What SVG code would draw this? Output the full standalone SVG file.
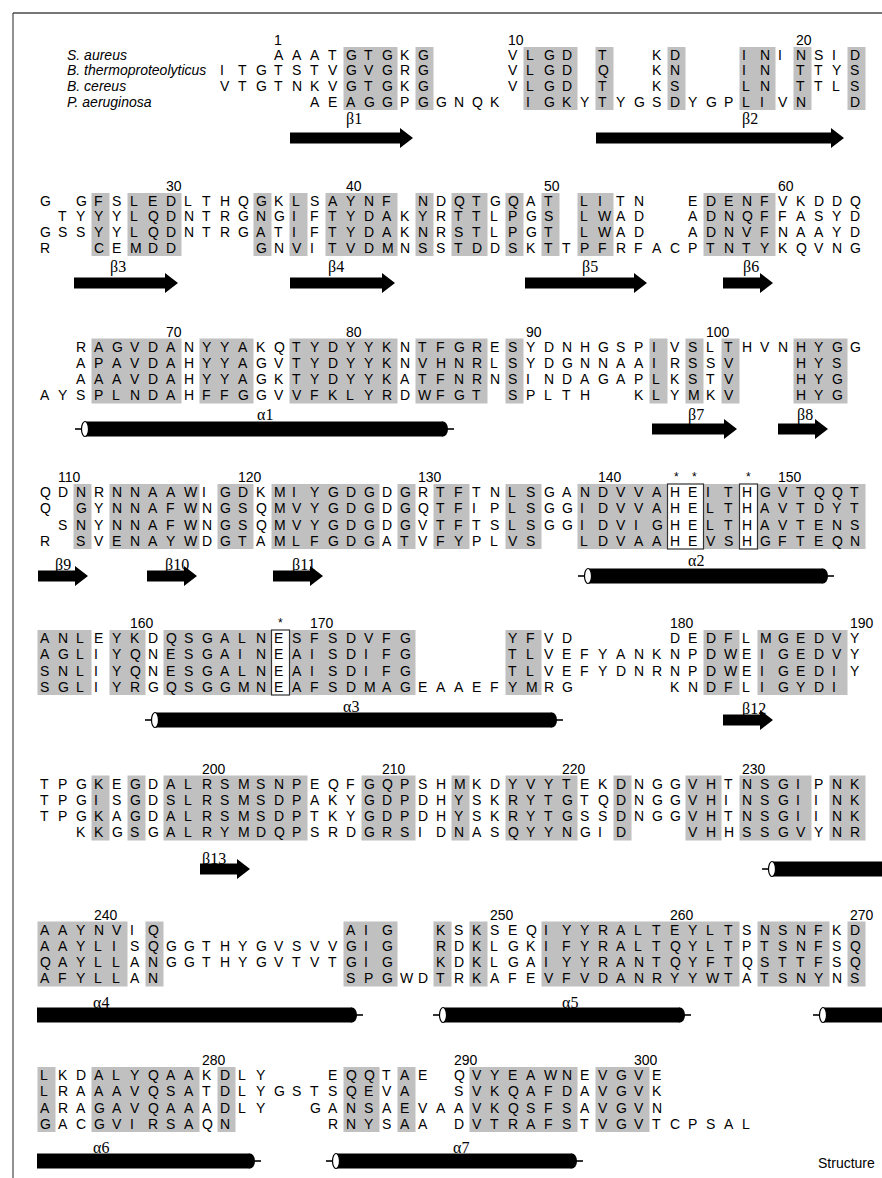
<svg xmlns="http://www.w3.org/2000/svg" width="882" height="1178" viewBox="0 0 882 1178">
<style>
.s{font-family:"Liberation Sans",Arial,sans-serif;font-size:14px;fill:#000}
.n{font-family:"Liberation Sans",Arial,sans-serif;font-size:14px;fill:#000}
.sp{font-family:"Liberation Sans",Arial,sans-serif;font-size:14px;font-style:italic;fill:#000}
.lb{font-family:"Liberation Serif","Times New Roman",serif;font-size:16px;fill:#000}
.ast{font-family:"Liberation Sans",Arial,sans-serif;font-size:12px;fill:#000}
.g{fill:#c0c0c0}
.bx{fill:#fff;stroke:#333;stroke-width:1.2}
.ar{fill:#000}
.hb{fill:#000}
.hc{fill:#fff;stroke:#000;stroke-width:1.2}
.ht{stroke:#000;stroke-width:1.6}
.fr{stroke:#777;fill:none}
</style>
<g id="frame">
<line class="fr" x1="13" y1="13" x2="882" y2="13" stroke-width="2"/>
<line x1="13" y1="13" x2="13" y2="1178" stroke="#222" stroke-width="1"/>
</g>
<g id="shading">
<g id="shade-b1">
<rect class="g" x="343.5" y="47" width="54" height="63"/><rect class="g" x="415.5" y="47" width="18" height="63"/><rect class="g" x="523.5" y="47" width="54" height="63"/><rect class="g" x="595.5" y="47" width="18" height="63"/><rect class="g" x="667.5" y="47" width="18" height="63"/><rect class="g" x="739.5" y="47" width="36" height="63"/><rect class="g" x="793.5" y="47" width="18" height="63"/><rect class="g" x="847.5" y="47" width="18" height="63"/>
</g>
<g id="shade-b2">
<rect class="g" x="91.5" y="193" width="18" height="63"/><rect class="g" x="127.5" y="193" width="54" height="63"/><rect class="g" x="253.5" y="193" width="18" height="63"/><rect class="g" x="289.5" y="193" width="18" height="63"/><rect class="g" x="325.5" y="193" width="72" height="63"/><rect class="g" x="415.5" y="193" width="18" height="63"/><rect class="g" x="451.5" y="193" width="36" height="63"/><rect class="g" x="505.5" y="193" width="18" height="63"/><rect class="g" x="541.5" y="193" width="18" height="63"/><rect class="g" x="577.5" y="193" width="36" height="63"/><rect class="g" x="703.5" y="193" width="72" height="63"/>
</g>
<g id="shade-b3">
<rect class="g" x="91.5" y="338.5" width="90" height="65"/><rect class="g" x="199.5" y="338.5" width="54" height="65"/><rect class="g" x="289.5" y="338.5" width="108" height="65"/><rect class="g" x="415.5" y="338.5" width="72" height="65"/><rect class="g" x="505.5" y="338.5" width="18" height="65"/><rect class="g" x="649.5" y="338.5" width="18" height="65"/><rect class="g" x="685.5" y="338.5" width="18" height="65"/><rect class="g" x="721.5" y="338.5" width="18" height="65"/><rect class="g" x="793.5" y="338.5" width="54" height="65"/>
</g>
<g id="shade-b4">
<rect class="g" x="73.5" y="484" width="18" height="65"/><rect class="g" x="109.5" y="484" width="90" height="65"/><rect class="g" x="217.5" y="484" width="36" height="65"/><rect class="g" x="271.5" y="484" width="108" height="65"/><rect class="g" x="397.5" y="484" width="18" height="65"/><rect class="g" x="433.5" y="484" width="36" height="65"/><rect class="g" x="505.5" y="484" width="36" height="65"/><rect class="g" x="577.5" y="484" width="288" height="65"/>
<rect class="bx" x="667.5" y="484" width="36" height="65"/><rect class="bx" x="739.5" y="484" width="18" height="65"/>
</g>
<g id="shade-b5">
<rect class="g" x="37.5" y="630" width="54" height="65"/><rect class="g" x="109.5" y="630" width="36" height="65"/><rect class="g" x="163.5" y="630" width="108" height="65"/><rect class="g" x="289.5" y="630" width="126" height="65"/><rect class="g" x="505.5" y="630" width="36" height="65"/><rect class="g" x="703.5" y="630" width="36" height="65"/><rect class="g" x="757.5" y="630" width="90" height="65"/>
<rect class="bx" x="271.5" y="630" width="18" height="65"/>
</g>
<g id="shade-b6">
<rect class="g" x="91.5" y="775.5" width="18" height="65"/><rect class="g" x="127.5" y="775.5" width="18" height="65"/><rect class="g" x="163.5" y="775.5" width="144" height="65"/><rect class="g" x="361.5" y="775.5" width="54" height="65"/><rect class="g" x="451.5" y="775.5" width="18" height="65"/><rect class="g" x="505.5" y="775.5" width="72" height="65"/><rect class="g" x="613.5" y="775.5" width="18" height="65"/><rect class="g" x="685.5" y="775.5" width="36" height="65"/><rect class="g" x="739.5" y="775.5" width="72" height="65"/><rect class="g" x="829.5" y="775.5" width="36" height="65"/>
</g>
<g id="shade-b7">
<rect class="g" x="37.5" y="921.5" width="90" height="65"/><rect class="g" x="145.5" y="921.5" width="18" height="65"/><rect class="g" x="343.5" y="921.5" width="54" height="65"/><rect class="g" x="433.5" y="921.5" width="18" height="65"/><rect class="g" x="469.5" y="921.5" width="18" height="65"/><rect class="g" x="541.5" y="921.5" width="198" height="65"/><rect class="g" x="757.5" y="921.5" width="72" height="65"/><rect class="g" x="847.5" y="921.5" width="18" height="65"/>
</g>
<g id="shade-b8">
<rect class="g" x="37.5" y="1067" width="18" height="65"/><rect class="g" x="91.5" y="1067" width="108" height="65"/><rect class="g" x="217.5" y="1067" width="18" height="65"/><rect class="g" x="343.5" y="1067" width="36" height="65"/><rect class="g" x="397.5" y="1067" width="18" height="65"/><rect class="g" x="469.5" y="1067" width="108" height="65"/><rect class="g" x="595.5" y="1067" width="54" height="65"/>
</g>
</g>
<g id="species">
<text class="sp" x="67" y="59.5">S. aureus</text>
<text class="sp" x="67" y="75.25">B. thermoproteolyticus</text>
<text class="sp" x="67" y="91">B. cereus</text>
<text class="sp" x="67" y="106.75">P. aeruginosa</text>
</g>
<g id="numbers">
<text class="n" x="274" y="45">1</text><text class="n" x="508" y="45">10</text><text class="n" x="796" y="45">20</text>
<text class="n" x="166" y="191">30</text><text class="n" x="346" y="191">40</text><text class="n" x="544" y="191">50</text><text class="n" x="778" y="191">60</text>
<text class="n" x="166" y="336.5">70</text><text class="n" x="346" y="336.5">80</text><text class="n" x="526" y="336.5">90</text><text class="n" x="706" y="336.5">100</text>
<text class="n" x="58" y="482">110</text><text class="n" x="238" y="482">120</text><text class="n" x="418" y="482">130</text><text class="n" x="598" y="482">140</text><text class="n" x="778" y="482">150</text>
<text class="n" x="130" y="628">160</text><text class="n" x="310" y="628">170</text><text class="n" x="670" y="628">180</text><text class="n" x="850" y="628">190</text>
<text class="n" x="202" y="773.5">200</text><text class="n" x="382" y="773.5">210</text><text class="n" x="562" y="773.5">220</text><text class="n" x="742" y="773.5">230</text>
<text class="n" x="94" y="919.5">240</text><text class="n" x="490" y="919.5">250</text><text class="n" x="670" y="919.5">260</text><text class="n" x="850" y="919.5">270</text>
<text class="n" x="202" y="1065">280</text><text class="n" x="454" y="1065">290</text><text class="n" x="634" y="1065">300</text>
<text class="ast" x="674" y="481">*</text><text class="ast" x="692" y="481">*</text><text class="ast" x="746" y="481">*</text>
<text class="ast" x="278" y="627">*</text>
</g>
<g id="block1">
<text class="s" xml:space="preserve" y="59.5" x="220 238 256 274 292 310 328 346 364 382 400 418 436 454 472 490 508 526 544 562 580 598 616 634 652 670 688 706 724 742 760 778 796 814 832 850">   AAATGTGKG    VLGD T  KD   ININSID</text>
<text class="s" xml:space="preserve" y="75.25" x="220 238 256 274 292 310 328 346 364 382 400 418 436 454 472 490 508 526 544 562 580 598 616 634 652 670 688 706 724 742 760 778 796 814 832 850">ITGTSTVGVGRG    VLGD Q  KN   IN TTYS</text>
<text class="s" xml:space="preserve" y="91" x="220 238 256 274 292 310 328 346 364 382 400 418 436 454 472 490 508 526 544 562 580 598 616 634 652 670 688 706 724 742 760 778 796 814 832 850">VTGTNKVGTGKG    VLGD T  KS   LN TTLS</text>
<text class="s" xml:space="preserve" y="106.75" x="220 238 256 274 292 310 328 346 364 382 400 418 436 454 472 490 508 526 544 562 580 598 616 634 652 670 688 706 724 742 760 778 796 814 832 850">     AEAGGPGGNQK IGKYTYGSDYGPLIVN  D</text>
</g>
<g id="block2">
<text class="s" xml:space="preserve" y="205.5" x="40 58 76 94 112 130 148 166 184 202 220 238 256 274 292 310 328 346 364 382 400 418 436 454 472 490 508 526 544 562 580 598 616 634 652 670 688 706 724 742 760 778 796 814 832 850">G GFSLEDLTHQGKLSAYNF NDQTGQAT LITN  EDENFVKDDQ</text>
<text class="s" xml:space="preserve" y="221.25" x="40 58 76 94 112 130 148 166 184 202 220 238 256 274 292 310 328 346 364 382 400 418 436 454 472 490 508 526 544 562 580 598 616 634 652 670 688 706 724 742 760 778 796 814 832 850"> TYYYLQDNTRGNGIFTYDAKYRTTLPGS LWAD  ADNQFFASYD</text>
<text class="s" xml:space="preserve" y="237" x="40 58 76 94 112 130 148 166 184 202 220 238 256 274 292 310 328 346 364 382 400 418 436 454 472 490 508 526 544 562 580 598 616 634 652 670 688 706 724 742 760 778 796 814 832 850">GSSYYLQDNTRGATIFTYDAKNRSTLPGT LWAD  ADNVFNAAYD</text>
<text class="s" xml:space="preserve" y="252.75" x="40 58 76 94 112 130 148 166 184 202 220 238 256 274 292 310 328 346 364 382 400 418 436 454 472 490 508 526 544 562 580 598 616 634 652 670 688 706 724 742 760 778 796 814 832 850">R  CEMDD    GNVITVDMNSSTDDSKTTPFRFACPTNTYKQVNG</text>
</g>
<g id="block3">
<text class="s" xml:space="preserve" y="351.5" x="40 58 76 94 112 130 148 166 184 202 220 238 256 274 292 310 328 346 364 382 400 418 436 454 472 490 508 526 544 562 580 598 616 634 652 670 688 706 724 742 760 778 796 814 832 850">  RAGVDANYYAKQTYDYYKNTFGRESYDNHGSPIVSLTHVNHYGG</text>
<text class="s" xml:space="preserve" y="367.75" x="40 58 76 94 112 130 148 166 184 202 220 238 256 274 292 310 328 346 364 382 400 418 436 454 472 490 508 526 544 562 580 598 616 634 652 670 688 706 724 742 760 778 796 814 832 850">  APAVDAHYYAGVTYDYYKNVHNRLSYDGNNAAIRSSV   HYS</text>
<text class="s" xml:space="preserve" y="384" x="40 58 76 94 112 130 148 166 184 202 220 238 256 274 292 310 328 346 364 382 400 418 436 454 472 490 508 526 544 562 580 598 616 634 652 670 688 706 724 742 760 778 796 814 832 850">  AAAVDAHYYAGKTYDYYKATFNRNSINDAGAPLKSTV   HYG</text>
<text class="s" xml:space="preserve" y="400.25" x="40 58 76 94 112 130 148 166 184 202 220 238 256 274 292 310 328 346 364 382 400 418 436 454 472 490 508 526 544 562 580 598 616 634 652 670 688 706 724 742 760 778 796 814 832 850">AYSPLNDAHFFGGVVFKLYRDWFGT SPLTH  KLYMKV   HYG</text>
</g>
<g id="block4">
<text class="s" xml:space="preserve" y="497" x="40 58 76 94 112 130 148 166 184 202 220 238 256 274 292 310 328 346 364 382 400 418 436 454 472 490 508 526 544 562 580 598 616 634 652 670 688 706 724 742 760 778 796 814 832 850">QDNRNNAAWIGDKMIYGDGDGRTFTNLSGANDVVAHEITHGVTQQT</text>
<text class="s" xml:space="preserve" y="513.25" x="40 58 76 94 112 130 148 166 184 202 220 238 256 274 292 310 328 346 364 382 400 418 436 454 472 490 508 526 544 562 580 598 616 634 652 670 688 706 724 742 760 778 796 814 832 850">Q GYNNAFWNGSQMVYGDGDGQTFIPLSGGIDVVAHELTHAVTDYT</text>
<text class="s" xml:space="preserve" y="529.5" x="40 58 76 94 112 130 148 166 184 202 220 238 256 274 292 310 328 346 364 382 400 418 436 454 472 490 508 526 544 562 580 598 616 634 652 670 688 706 724 742 760 778 796 814 832 850"> SNYNNAFWNGSQMVYGDGDGVTFTSLSGGIDVIGHELTHAVTENS</text>
<text class="s" xml:space="preserve" y="545.75" x="40 58 76 94 112 130 148 166 184 202 220 238 256 274 292 310 328 346 364 382 400 418 436 454 472 490 508 526 544 562 580 598 616 634 652 670 688 706 724 742 760 778 796 814 832 850">R SVENAYWDGTAMLFGDGATVFYPLVS  LDVAAHEVSHGFTEQN</text>
</g>
<g id="block5">
<text class="s" xml:space="preserve" y="643" x="40 58 76 94 112 130 148 166 184 202 220 238 256 274 292 310 328 346 364 382 400 418 436 454 472 490 508 526 544 562 580 598 616 634 652 670 688 706 724 742 760 778 796 814 832 850">ANLEYKDQSGALNESFSDVFG     YFVD     DEDFLMGEDVY</text>
<text class="s" xml:space="preserve" y="659.25" x="40 58 76 94 112 130 148 166 184 202 220 238 256 274 292 310 328 346 364 382 400 418 436 454 472 490 508 526 544 562 580 598 616 634 652 670 688 706 724 742 760 778 796 814 832 850">AGLIYQNESGAINEAISDIFG     TLVEFYANKNPDWEIGEDVY</text>
<text class="s" xml:space="preserve" y="675.5" x="40 58 76 94 112 130 148 166 184 202 220 238 256 274 292 310 328 346 364 382 400 418 436 454 472 490 508 526 544 562 580 598 616 634 652 670 688 706 724 742 760 778 796 814 832 850">SNLIYQNESGALNEAISDIFG     TLVEFYDNRNPDWEIGEDIY</text>
<text class="s" xml:space="preserve" y="691.75" x="40 58 76 94 112 130 148 166 184 202 220 238 256 274 292 310 328 346 364 382 400 418 436 454 472 490 508 526 544 562 580 598 616 634 652 670 688 706 724 742 760 778 796 814 832 850">SGLIYRGQSGGMNEAFSDMAGEAAEFYMRG     KNDFLIGYDI</text>
</g>
<g id="block6">
<text class="s" xml:space="preserve" y="788.5" x="40 58 76 94 112 130 148 166 184 202 220 238 256 274 292 310 328 346 364 382 400 418 436 454 472 490 508 526 544 562 580 598 616 634 652 670 688 706 724 742 760 778 796 814 832 850">TPGKEGDALRSMSNPEQFGQPSHMKDYVYTEKDNGGVHTNSGIPNK</text>
<text class="s" xml:space="preserve" y="804.75" x="40 58 76 94 112 130 148 166 184 202 220 238 256 274 292 310 328 346 364 382 400 418 436 454 472 490 508 526 544 562 580 598 616 634 652 670 688 706 724 742 760 778 796 814 832 850">TPGISGDSLRSMSDPAKYGDPDHYSKRYTGTQDNGGVHINSGIINK</text>
<text class="s" xml:space="preserve" y="821" x="40 58 76 94 112 130 148 166 184 202 220 238 256 274 292 310 328 346 364 382 400 418 436 454 472 490 508 526 544 562 580 598 616 634 652 670 688 706 724 742 760 778 796 814 832 850">TPGKAGDALRSMSDPTKYGDPDHYSKRYTGSSDNGGVHTNSGIINK</text>
<text class="s" xml:space="preserve" y="837.25" x="40 58 76 94 112 130 148 166 184 202 220 238 256 274 292 310 328 346 364 382 400 418 436 454 472 490 508 526 544 562 580 598 616 634 652 670 688 706 724 742 760 778 796 814 832 850">  KKGSGALRYMDQPSRDGRSIDNASQYYNGID   VHHSSGVYNR</text>
</g>
<g id="block7">
<text class="s" xml:space="preserve" y="934.5" x="40 58 76 94 112 130 148 166 184 202 220 238 256 274 292 310 328 346 364 382 400 418 436 454 472 490 508 526 544 562 580 598 616 634 652 670 688 706 724 742 760 778 796 814 832 850">AAYNVIQ          AIG  KSKSEQIYYRALTEYLTSNSNFKD</text>
<text class="s" xml:space="preserve" y="950.75" x="40 58 76 94 112 130 148 166 184 202 220 238 256 274 292 310 328 346 364 382 400 418 436 454 472 490 508 526 544 562 580 598 616 634 652 670 688 706 724 742 760 778 796 814 832 850">AAYLISQGGTHYGVSVVGIG  RDKLGKIFYRALTQYLTPTSNFSQ</text>
<text class="s" xml:space="preserve" y="967" x="40 58 76 94 112 130 148 166 184 202 220 238 256 274 292 310 328 346 364 382 400 418 436 454 472 490 508 526 544 562 580 598 616 634 652 670 688 706 724 742 760 778 796 814 832 850">QAYLLANGGTHYGVTVTGIG  KDKLGAIYYRANTQYFTQSTTFSQ</text>
<text class="s" xml:space="preserve" y="983.25" x="40 58 76 94 112 130 148 166 184 202 220 238 256 274 292 310 328 346 364 382 400 418 436 454 472 490 508 526 544 562 580 598 616 634 652 670 688 706 724 742 760 778 796 814 832 850">AFYLLAN          SPGWDTRKAFEVFVDANRYYWTATSNYNS</text>
</g>
<g id="block8">
<text class="s" xml:space="preserve" y="1080" x="40 58 76 94 112 130 148 166 184 202 220 238 256 274 292 310 328 346 364 382 400 418 436 454 472 490 508 526 544 562 580 598 616 634 652 670 688 706 724 742 760 778 796 814 832 850">LKDALYQAAKDLY   EQQTAE QVYEAWNEVGVE</text>
<text class="s" xml:space="preserve" y="1096.25" x="40 58 76 94 112 130 148 166 184 202 220 238 256 274 292 310 328 346 364 382 400 418 436 454 472 490 508 526 544 562 580 598 616 634 652 670 688 706 724 742 760 778 796 814 832 850">LRAAAVQSATDLYGSTSQEVA  SVKQAFDAVGVK</text>
<text class="s" xml:space="preserve" y="1112.5" x="40 58 76 94 112 130 148 166 184 202 220 238 256 274 292 310 328 346 364 382 400 418 436 454 472 490 508 526 544 562 580 598 616 634 652 670 688 706 724 742 760 778 796 814 832 850">ARAGAVQAAADLY  GANSAEVAAVKQSFSAVGVN</text>
<text class="s" xml:space="preserve" y="1128.75" x="40 58 76 94 112 130 148 166 184 202 220 238 256 274 292 310 328 346 364 382 400 418 436 454 472 490 508 526 544 562 580 598 616 634 652 670 688 706 724 742 760 778 796 814 832 850">GACGVIRSAQN     RNYSAA DVTRAFSTVGVTCPSAL</text>
</g>
<g id="structure">
<g id="b1-ss">
<text class="lb" x="346" y="124">β1</text><polygon class="ar" points="290,132.5 400,132.5 400,128 413,138 400,148 400,143.5 290,143.5"/>
<text class="lb" x="742" y="124">β2</text><polygon class="ar" points="596,132.5 831,132.5 831,128 844,138 831,148 831,143.5 596,143.5"/>
</g>
<g id="b2-ss">
<text class="lb" x="110" y="272">β3</text><polygon class="ar" points="74,277.5 165,277.5 165,273 178,283 165,293 165,288.5 74,288.5"/>
<text class="lb" x="328" y="272">β4</text><polygon class="ar" points="290,277.5 382,277.5 382,273 395,283 382,293 382,288.5 290,288.5"/>
<text class="lb" x="582" y="272">β5</text><polygon class="ar" points="525,277.5 634,277.5 634,273 647,283 634,293 634,288.5 525,288.5"/>
<text class="lb" x="743" y="272">β6</text><polygon class="ar" points="723,277.5 760,277.5 760,273 773,283 760,293 760,288.5 723,288.5"/>
</g>
<g id="b3-ss">
<text class="lb" x="257" y="420">α1</text>
<line class="ht" x1="75" y1="429" x2="84" y2="429"/><rect class="hb" x="84" y="421.5" width="359" height="15"/><ellipse class="hb" cx="443" cy="429" rx="5" ry="7.5"/><line class="ht" x1="446" y1="429" x2="454" y2="429"/><ellipse class="hc" cx="85" cy="429" rx="3.5" ry="7.5"/>
<text class="lb" x="688" y="420">β7</text><polygon class="ar" points="652,423.5 724,423.5 724,419 737,429 724,439 724,434.5 652,434.5"/>
<text class="lb" x="797" y="420">β8</text><polygon class="ar" points="778,423.5 815,423.5 815,419 828,429 815,439 815,434.5 778,434.5"/>
</g>
<g id="b4-ss">
<text class="lb" x="55" y="570">β9</text><polygon class="ar" points="38,570.5 75,570.5 75,566 88,576 75,586 75,581.5 38,581.5"/>
<text class="lb" x="165" y="570">β10</text><polygon class="ar" points="147,570.5 184,570.5 184,566 197,576 184,586 184,581.5 147,581.5"/>
<text class="lb" x="292" y="570">β11</text><polygon class="ar" points="273,570.5 310,570.5 310,566 323,576 310,586 310,581.5 273,581.5"/>
<text class="lb" x="688" y="566">α2</text>
<line class="ht" x1="578" y1="576" x2="587" y2="576"/><rect class="hb" x="587" y="568.5" width="236" height="15"/><ellipse class="hb" cx="823" cy="576" rx="5" ry="7.5"/><line class="ht" x1="826" y1="576" x2="834" y2="576"/><ellipse class="hc" cx="588" cy="576" rx="3.5" ry="7.5"/>
</g>
<g id="b5-ss">
<text class="lb" x="343" y="712">α3</text>
<line class="ht" x1="145" y1="720" x2="154" y2="720"/><rect class="hb" x="154" y="712.5" width="398" height="15"/><ellipse class="hb" cx="552" cy="720" rx="5" ry="7.5"/><line class="ht" x1="555" y1="720" x2="563" y2="720"/><ellipse class="hc" cx="155" cy="720" rx="3.5" ry="7.5"/>
<text class="lb" x="742" y="714">β12</text><polygon class="ar" points="723,714.5 760,714.5 760,710 773,720 760,730 760,725.5 723,725.5"/>
</g>
<g id="b6-ss">
<text class="lb" x="202" y="864">β13</text><polygon class="ar" points="200,863.5 237,863.5 237,859 250,869 237,879 237,874.5 200,874.5"/>
<line class="ht" x1="762" y1="869" x2="771" y2="869"/><rect class="hb" x="771" y="861.5" width="111" height="15"/><ellipse class="hc" cx="772" cy="869" rx="3.5" ry="7.5"/>
</g>
<g id="b7-ss">
<text class="lb" x="93" y="1008">α4</text>
<rect class="hb" x="37" y="1007.5" width="315" height="15"/><ellipse class="hb" cx="352" cy="1015" rx="5" ry="7.5"/><line class="ht" x1="355" y1="1015" x2="363" y2="1015"/>
<text class="lb" x="562" y="1008">α5</text>
<line class="ht" x1="433" y1="1015" x2="442" y2="1015"/><rect class="hb" x="442" y="1007.5" width="238" height="15"/><ellipse class="hb" cx="680" cy="1015" rx="5" ry="7.5"/><line class="ht" x1="683" y1="1015" x2="691" y2="1015"/><ellipse class="hc" cx="443" cy="1015" rx="3.5" ry="7.5"/>
<line class="ht" x1="813" y1="1015" x2="822" y2="1015"/><rect class="hb" x="822" y="1007.5" width="60" height="15"/><ellipse class="hc" cx="823" cy="1015" rx="3.5" ry="7.5"/>
</g>
<g id="b8-ss">
<text class="lb" x="93" y="1153">α6</text>
<rect class="hb" x="37" y="1153.5" width="213" height="15"/><ellipse class="hb" cx="250" cy="1161" rx="5" ry="7.5"/><line class="ht" x1="253" y1="1161" x2="261" y2="1161"/>
<text class="lb" x="453" y="1153">α7</text>
<line class="ht" x1="326" y1="1161" x2="335" y2="1161"/><rect class="hb" x="335" y="1153.5" width="237" height="15"/><ellipse class="hb" cx="572" cy="1161" rx="5" ry="7.5"/><line class="ht" x1="575" y1="1161" x2="583" y2="1161"/><ellipse class="hc" cx="336" cy="1161" rx="3.5" ry="7.5"/>
</g>
</g>
<text class="n" x="818" y="1168" font-size="15">Structure</text>
</svg>
